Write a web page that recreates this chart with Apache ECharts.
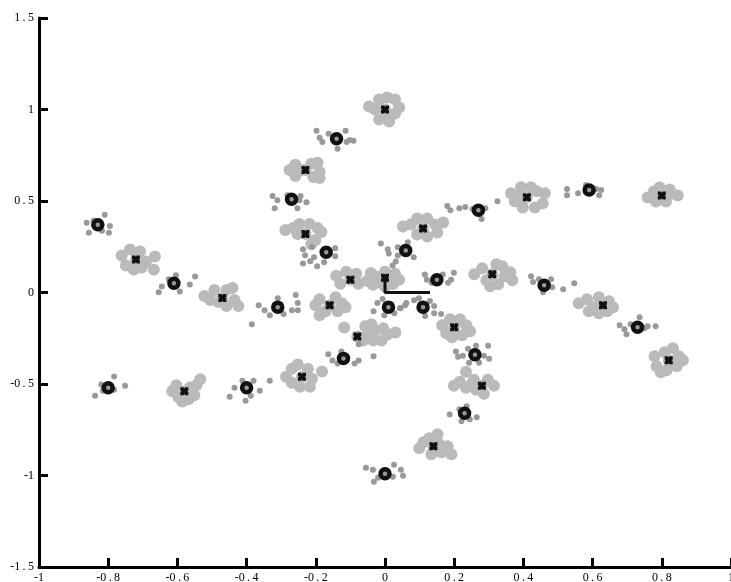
<!DOCTYPE html>
<html>
<head>
<meta charset="utf-8">
<script src="https://cdn.jsdelivr.net/npm/echarts@6/dist/echarts.min.js"></script>
<style>
  html, body { margin: 0; padding: 0; background: #fff; }
  #chart { width: 731px; height: 582px; }
</style>
</head>
<body>
<div id="chart"></div>
<script>
// x ticks -1..1 step 0.2, y ticks -1.5..1.5 step 0.5
var xRange = [-1, 1, 0.2];
var yRange = [-1.5, 1.5, 0.5];

// centres marked with a black cross
var xCenters = [
  [0.00, 1.00], [-0.23, 0.67], [-0.23, 0.32], [-0.10, 0.07], [0.00, 0.08],
  [-0.72, 0.18], [-0.47, -0.03], [-0.16, -0.07], [-0.58, -0.54], [-0.24, -0.46],
  [-0.08, -0.24], [0.80, 0.53], [0.41, 0.52], [0.11, 0.35], [0.31, 0.10],
  [0.63, -0.07], [0.82, -0.37], [0.20, -0.19], [0.28, -0.51], [0.14, -0.84]
];

// light grey cloud round each cross (offsets from its centre)
var xClouds = [
  [[-0.046,0.017],[-0.029,0],[-0.017,0.055],[0.006,0.066],[0.029,0.055],[0.041,0.011],[0.029,-0.022],[0.006,-0.044],[-0.017,-0.055],[0,0],[0.012,-0.066]],
  [[-0.046,0],[-0.029,0.028],[-0.029,-0.033],[-0.012,0],[0,0],[0.017,0.033],[0.035,0.039],[0.041,-0.011],[0.023,-0.039],[0.041,-0.044]],
  [[-0.058,0.022],[-0.035,0.033],[-0.017,0.055],[0.012,0.055],[0.035,0.033],[0.046,0.011],[0.029,-0.033],[0.017,-0.055],[0,0],[-0.023,0]],
  [[-0.041,0.022],[-0.029,-0.022],[-0.012,0.044],[0,0],[0.017,0.033],[0.023,-0.022]],
  [[-0.041,0.027],[-0.023,0.006],[-0.012,-0.027],[0.012,-0.006],[-0.035,-0.038],[-0.052,-0.017],[0,-0.049],[0.029,0.022],[0.041,-0.011],[0.023,-0.033],[0,0.033]],
  [[-0.041,0.022],[-0.029,-0.033],[-0.017,0.055],[0,0],[0.012,0.044],[0.017,-0.044],[0.029,-0.011],[-0.006,-0.055],[0.055,0.017],[0.052,-0.055]],
  [[-0.052,0.011],[-0.035,-0.011],[-0.023,0.044],[0.012,0.044],[0.029,0.055],[0.035,-0.011],[0.046,-0.044],[0.012,-0.044],[-0.012,-0.022],[0,0]],
  [[-0.041,0],[-0.029,0.033],[-0.029,-0.055],[-0.012,-0.033],[0,0],[0.017,0.044],[0.035,0.011],[0.046,-0.011],[0.023,-0.033]],
  [[-0.035,0],[-0.023,0.033],[-0.017,-0.033],[0,0],[0.017,0.022],[0.012,-0.044],[0.035,0.033],[0.046,0.066],[0.029,-0.022],[-0.006,-0.055]],
  [[-0.046,0],[-0.029,0.044],[-0.012,0.066],[0,0],[0.017,0.044],[0.029,-0.011],[0.023,-0.055],[-0.006,-0.055],[-0.029,-0.033],[0.058,0.028]],
  [[-0.038,0.049],[0.023,0.055],[0.041,0.066],[0.029,0.011],[0.052,0.033],[0.075,0.044],[0.087,0.011],[0.110,0.022],[0.046,-0.022],[0.070,-0.022],[0.017,-0.022],[0,0]],
  [[-0.041,-0.011],[-0.023,0.022],[-0.006,0.044],[0,0],[0.012,-0.033],[0.029,0.011],[0.046,0],[-0.017,-0.033],[0.023,0.033]],
  [[-0.046,0.022],[-0.035,-0.022],[-0.017,0.055],[0.012,0.055],[0.029,0.033],[0.052,0.022],[0.046,-0.033],[0.023,-0.055],[-0.012,-0.055],[0,0],[-0.023,0]],
  [[-0.058,0.011],[-0.035,0.022],[-0.017,0.055],[0.012,0.055],[0.035,0.022],[0.058,0.033],[0.041,-0.022],[0.012,-0.044],[-0.017,-0.033],[0,0]],
  [[-0.052,0],[-0.029,0.033],[-0.017,-0.033],[0,0],[0.012,0.055],[0.029,0.044],[0.035,-0.011],[0.052,0.011],[0.017,-0.055],[-0.006,-0.066],[0.058,-0.033]],
  [[-0.070,0.011],[-0.046,0.033],[-0.029,-0.011],[-0.012,0.044],[0,0],[0.017,0.022],[0.029,-0.011],[-0.041,-0.033],[-0.012,-0.044],[0.012,-0.033]],
  [[-0.041,0.022],[-0.035,-0.033],[-0.023,-0.066],[-0.012,0.044],[0.012,0.066],[0.029,0.022],[0.041,0],[0.023,-0.033],[0,0],[-0.006,-0.055]],
  [[-0.035,0.011],[-0.023,-0.033],[-0.012,0.044],[0,0],[0.017,0.044],[0.035,0.011],[0.046,-0.022],[0.023,-0.044],[-0.006,-0.055]],
  [[-0.081,0],[-0.064,0.022],[-0.046,-0.011],[-0.046,0.077],[-0.023,0.033],[0,0],[0.017,0.033],[0.035,0],[0.006,-0.044],[-0.017,-0.022],[-0.029,0.011]],
  [[-0.041,-0.011],[-0.029,0.022],[-0.012,0.044],[0.012,0.066],[0,0],[0.017,0.011],[0.041,0],[0.052,-0.044],[0.023,-0.033],[-0.006,-0.044]]
];

// centres marked with a black ring
var oCenters = [
  [-0.14, 0.84], [-0.27, 0.51], [-0.17, 0.22], [0.01, -0.08], [-0.83, 0.37],
  [-0.61, 0.05], [-0.31, -0.08], [-0.80, -0.52], [-0.40, -0.52], [-0.12, -0.36],
  [0.27, 0.45], [0.59, 0.56], [0.06, 0.23], [0.15, 0.07], [0.46, 0.04],
  [0.73, -0.19], [0.11, -0.08], [0.26, -0.34], [0.23, -0.66], [0.00, -0.99]
];

// darker grey dots round each ring (offsets from its centre)
var oClouds = [
  [[-0.058,0.044],[-0.049,0.006],[-0.041,-0.017],[-0.023,0.028],[0.003,-0.055],[0.026,0.044],[0.038,-0.006],[0.049,-0.011],[0.029,-0.017]],
  [[-0.055,0.017],[-0.041,-0.006],[-0.049,-0.049],[-0.012,0.022],[0.026,0.017],[0.043,-0.017],[0.017,-0.049],[0.023,-0.006]],
  [[-0.067,0.017],[-0.061,-0.017],[-0.067,-0.061],[-0.046,-0.049],[-0.035,-0.028],[-0.026,-0.077],[-0.006,-0.055],[-0.041,0.028],[0.026,0.022],[0.026,-0.022]],
  [[-0.043,-0.022],[-0.032,0.022],[-0.017,0.044],[0.035,-0.006],[0.052,0.022],[0.017,-0.033],[-0.012,-0.044]],
  [[-0.032,0.011],[-0.026,-0.044],[0.020,0.055],[0.035,-0.006],[0.032,-0.044],[0.012,-0.033],[-0.012,0.022]],
  [[-0.044,-0.049],[-0.035,-0.017],[-0.015,0.022],[0.006,0.044],[0.017,-0.044],[0.046,-0.006],[0.061,0.038]],
  [[-0.055,0.011],[-0.038,-0.017],[-0.023,-0.044],[0,0.049],[0.017,-0.038],[0.041,-0.017],[0.052,0.066],[0.058,0.022],[0.058,-0.017],[-0.075,-0.093]],
  [[-0.038,-0.044],[-0.020,0.017],[0.017,0.061],[0.049,0.011],[0.017,-0.011],[-0.015,-0.017]],
  [[-0.049,-0.049],[-0.035,0],[-0.012,0.038],[0.020,0.038],[0.038,-0.017],[0.012,-0.044],[-0.003,-0.072],[0.067,0.038]],
  [[-0.044,0.022],[-0.032,-0.011],[-0.017,-0.028],[-0.006,0.038],[0.032,-0.028],[0.044,-0.011],[0.087,0.011],[0.044,0.077]],
  [[-0.090,0.022],[-0.081,0],[-0.055,0.011],[-0.038,0.017],[-0.017,0.006],[0.009,-0.049],[0.020,0.011],[0.055,0.049]],
  [[-0.064,0.006],[-0.064,-0.028],[-0.032,-0.017],[-0.009,0.028],[0.020,0.006],[0.035,0],[0.029,-0.028]],
  [[-0.072,0.038],[-0.052,0.006],[-0.049,-0.017],[-0.023,0.017],[-0.023,-0.028],[0.006,0.044],[0.023,-0.038],[-0.038,-0.082],[-0.029,-0.061]],
  [[-0.035,0.028],[-0.029,0],[-0.015,-0.017],[0.032,-0.017],[0.041,0],[0.049,0.038],[0.017,0.028]],
  [[-0.038,0.049],[-0.032,0.017],[-0.015,0.033],[0.020,0.033],[0.023,-0.011],[0.055,-0.022],[0.087,0.011],[-0.003,-0.038]],
  [[-0.052,0.011],[-0.038,-0.011],[-0.032,-0.038],[-0.020,0.017],[0.006,0.055],[0.029,0.006],[0.052,0.006],[0.020,-0.006]],
  [[-0.026,0.038],[-0.012,0.049],[0.020,0.033],[0.032,0.006],[0.032,-0.033],[0.052,-0.038],[0.006,-0.049],[-0.067,-0.006],[-0.052,0.011]],
  [[-0.055,0.017],[-0.049,-0.011],[-0.035,-0.006],[-0.020,0.033],[0.003,0.049],[0.038,0.049],[0.041,-0.022],[0.012,-0.044],[-0.017,-0.044],[0.026,-0.006]],
  [[-0.043,-0.006],[-0.015,0.022],[-0.009,-0.044],[0.015,-0.033],[0.035,-0.022],[0.006,0.038]],
  [[-0.055,0.033],[-0.035,0.022],[-0.032,-0.044],[-0.020,-0.022],[0.026,0.049],[0.046,0.022],[0.052,-0.011],[0.023,-0.017]]
];

// small frame drawn at the origin
var frameLine = [[0.13, 0], [0, 0], [0, 0.1]];

function spread(centers, clouds) {
  var out = [];
  centers.forEach(function (c, i) {
    clouds[i].forEach(function (d) {
      out.push([c[0] + d[0], c[1] + d[1]]);
    });
  });
  return out;
}

var lightPts = spread(xCenters, xClouds);
var darkPts = spread(oCenters, oClouds).concat(oCenters);

var crossPath = 'path://M0,0 L4,0 L5,1.5 L6,0 L10,0 L10,4 L8.5,5 L10,6 L10,10 L6,10 L5,8.5 L4,10 L0,10 L0,6 L1.5,5 L0,4 Z';

var labelFmt = function (v) {
  return String(Math.round(v * 10) / 10).replace('.', '\u2009.\u2009');
};

var axisCommon = {
  axisLine: { show: true, onZero: false, lineStyle: { color: '#000', width: 3 } },
  axisTick: { show: true, inside: true, length: 9, lineStyle: { color: '#000', width: 3 } },
  splitLine: { show: false },
  axisLabel: {
    color: '#000',
    fontFamily: 'Liberation Serif, Times New Roman, serif',
    fontSize: 12,
    margin: 5,
    hideOverlap: false,
    formatter: labelFmt
  }
};

var myChart = echarts.init(document.getElementById('chart'), null, { renderer: 'canvas' });
myChart.setOption({
  animation: false,
  backgroundColor: '#fff',
  grid: { left: 39, right: 0, top: 18, bottom: 15, containLabel: false, outerBoundsMode: 'none' },
  xAxis: Object.assign({ type: 'value', min: xRange[0], max: xRange[1], interval: xRange[2] }, axisCommon),
  yAxis: Object.assign({ type: 'value', min: yRange[0], max: yRange[1], interval: yRange[2] }, axisCommon),
  series: [
    {
      type: 'scatter',
      data: lightPts,
      symbol: 'circle',
      symbolSize: 12,
      itemStyle: { color: '#bababa', opacity: 1 },
      silent: true,
      z: 1
    },
    {
      type: 'scatter',
      data: darkPts,
      symbol: 'circle',
      symbolSize: 6,
      itemStyle: { color: '#999999', opacity: 1 },
      silent: true,
      z: 2
    },
    {
      type: 'line',
      data: frameLine,
      symbol: 'none',
      lineStyle: { color: '#111', width: 3 },
      silent: true,
      z: 3
    },
    {
      type: 'scatter',
      data: xCenters,
      symbol: crossPath,
      symbolSize: 8,
      itemStyle: { color: '#111', opacity: 1 },
      silent: true,
      z: 4
    },
    {
      type: 'scatter',
      data: oCenters,
      symbol: 'circle',
      symbolSize: 9,
      itemStyle: { color: 'rgba(0,0,0,0)', borderColor: '#111', borderWidth: 4.5, opacity: 1 },
      silent: true,
      z: 5
    }
  ]
});
</script>
</body>
</html>
